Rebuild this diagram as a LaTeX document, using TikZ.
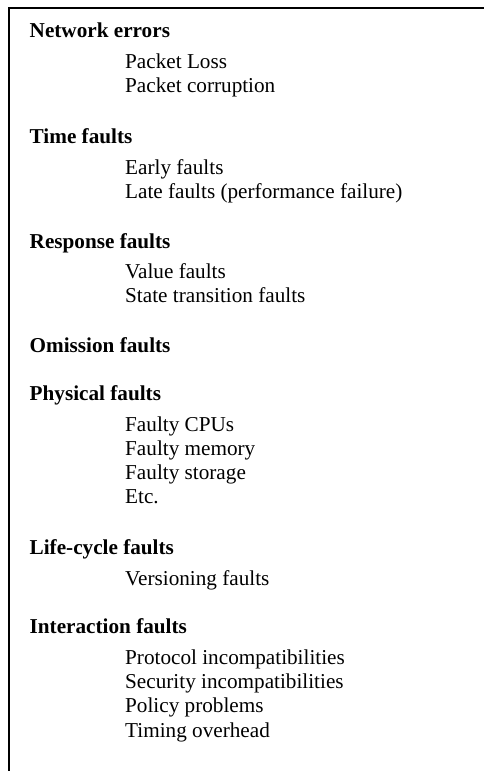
\documentclass[tikz,border=0pt]{standalone}
\usepackage{fontspec}
\setmainfont{Liberation Serif}
\begin{document}
\begin{tikzpicture}[x=1pt,y=-1pt,
  hdr/.style={anchor=base west,inner sep=0pt,font=\fontsize{21.2}{24.3}\selectfont\bfseries},
  itm/.style={anchor=base west,inner sep=0pt,font=\fontsize{21.2}{24.3}\selectfont},
  frame/.style={line width=2pt,black,line cap=rect}]
\useasboundingbox (0,0) rectangle (483,771);
\coordinate (tr) at (483,8.3);
\coordinate (tl) at (9,8.3);
\coordinate (bl) at (9,771);
\draw[frame] (tr) -- (tl) -- (bl);
% Network errors
\node[hdr] (h1) at (29.5,37.3) {Network errors};
\node[itm] (i11) at (125,68.3) {Packet Loss};
\node[itm] (i12) at (125,92.6) {Packet corruption};
% Time faults
\node[hdr] (h2) at (29.5,143.3) {Time faults};
\node[itm] (i21) at (125,174) {Early faults};
\node[itm] (i22) at (125,198.3) {Late faults (performance failure)};
% Response faults
\node[hdr] (h3) at (29.5,248.3) {Response faults};
\node[itm] (i31) at (125,278.3) {Value faults};
\node[itm] (i32) at (125,302.6) {State transition faults};
% Omission faults
\node[hdr] (h4) at (29.5,352.3) {Omission faults};
% Physical faults
\node[hdr] (h5) at (29.5,400.7) {Physical faults};
\node[itm] (i51) at (125,431) {Faulty CPUs};
\node[itm] (i52) at (125,455.5) {Faulty memory};
\node[itm] (i53) at (125,479.5) {Faulty storage};
\node[itm] (i54) at (125,503.8) {Etc.};
% Life-cycle faults
\node[hdr] (h6) at (29.5,554) {Life-cycle faults};
\node[itm] (i61) at (125,585) {Versioning faults};
% Interaction faults
\node[hdr] (h7) at (29.5,633.3) {Interaction faults};
\node[itm] (i71) at (125,664) {Protocol incompatibilities};
\node[itm] (i72) at (125,688.3) {Security incompatibilities};
\node[itm] (i73) at (125,712.6) {Policy problems};
\node[itm] (i74) at (125,737) {Timing overhead};
\end{tikzpicture}
\end{document}
